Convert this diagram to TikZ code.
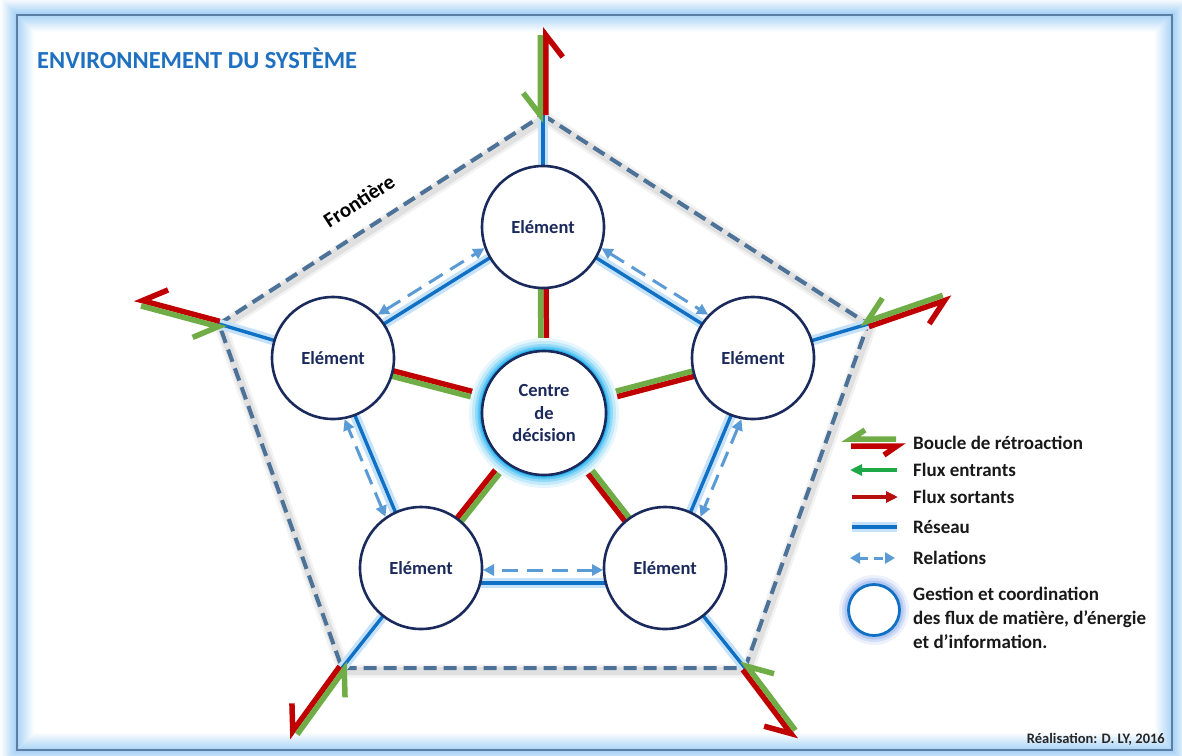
\documentclass[tikz,border=0pt]{standalone}
\usepackage{fontspec}
\setmainfont{Carlito}
\usetikzlibrary{calc,arrows.meta}
\pgfdeclarelayer{bg}
\pgfsetlayers{bg,main}
\definecolor{navy}{HTML}{1B2A5C}
\definecolor{fgreen}{HTML}{70AD47}
\definecolor{fred}{HTML}{C00000}
\definecolor{netblue}{HTML}{1070C4}
\definecolor{netglowc}{HTML}{C5E2FA}
\definecolor{relblue}{HTML}{5B9BD5}
\definecolor{bordc}{HTML}{4D7298}
\definecolor{titleblue}{HTML}{1F70C1}
\definecolor{glowc}{HTML}{9DCDF5}
\definecolor{centglow}{HTML}{2AB5F0}
\definecolor{legreen}{HTML}{1EA84A}
\definecolor{legred}{HTML}{B80F0F}
\definecolor{framec}{HTML}{5C7EA3}
\definecolor{legglow}{HTML}{7FA2E8}
\newcommand{\fbk}[2]{%
  \begin{scope}[shift={(#1)},rotate=#2]
    \draw[fr] (58,19.75) -- (80,2.75) -- (0,2.75);
    \draw[fg] (22,-19.75) -- (0,-2.75) -- (80,-2.75);
  \end{scope}}
\begin{document}
\begin{tikzpicture}[x=1pt,y=-1pt,
  elem/.style={circle,draw=navy,line width=2.6pt,fill=white,minimum size=122pt,inner sep=0pt,text=navy,font=\bfseries\fontsize{18.5}{22.5}\selectfont,align=center},
  netglow/.style={draw=netglowc,line width=10pt},
  netline/.style={draw=netblue,line width=3.4pt},
  rel/.style={draw=relblue,line width=3pt,dash pattern=on 16pt off 9pt,{Triangle[length=11pt,width=11pt]}-{Triangle[length=11pt,width=11pt]}},
  fr/.style={draw=fred,line width=5.5pt,line join=miter},
  fg/.style={draw=fgreen,line width=5.5pt,line join=miter},
  border/.style={draw=bordc,line width=4pt,dash pattern=on 13pt off 7pt},
  lab/.style={font=\bfseries\fontsize{19}{24}\selectfont,anchor=west,inner sep=0pt,align=left,text=black!90},
]
\useasboundingbox (0,0) rectangle (1182,755);

% vertices of the boundary
\coordinate (vT) at (543,115);
\coordinate (vR) at (868,324);
\coordinate (vBR) at (745,668);
\coordinate (vBL) at (342,668);
\coordinate (vL) at (219,324);

% nodes
\node[elem] (eT) at (543,227) {Elément};
\node[elem] (eL) at (333,358) {Elément};
\node[elem] (eR) at (753,358) {Elément};
\node[elem] (eBL) at (421,568) {Elément};
\node[elem] (eBR) at (665,568) {Elément};
\node[elem,minimum size=124pt] (C) at (544,413) {Centre\\de\\décision};

\begin{pgfonlayer}{bg}
  \fill[white] (0,0) rectangle (1182,755);
  \foreach \i in {0,...,16} {
    \pgfmathtruncatemacro\p{100-6*\i}
    \draw[glowc!\p!white, line width=1.2pt] (17-\i,15-\i) rectangle (1172+\i,750+\i);
  }
  \foreach \i in {1,...,18} {
    \pgfmathtruncatemacro\p{90-5*\i}
    \draw[glowc!\p!white, line width=1.2pt] (17+\i,15+\i) rectangle (1172-\i,750-\i);
  }
  \draw[framec, line width=1.3pt] (17,15) rectangle (1172,750);

  % boundary with soft shadow
  \draw[black, opacity=0.05, line width=13pt, line join=round, transform canvas={shift={(2pt,-3pt)}}] (vT) -- (vR) -- (vBR) -- (vBL) -- (vL) -- cycle;
  \draw[black, opacity=0.07, line width=8pt, line join=round, transform canvas={shift={(2pt,-3pt)}}] (vT) -- (vR) -- (vBR) -- (vBL) -- (vL) -- cycle;
  \draw[border] (vT) -- (vR) -- (vBR) -- (vBL) -- (vL) -- cycle;

  % network to boundary
  \foreach \e/\v in {eT/vT,eR/vR,eBR/vBR,eBL/vBL,eL/vL} {
    \draw[netglow] (\e.center) -- (\v);
  }
  \foreach \e/\v in {eT/vT,eR/vR,eBR/vBR,eBL/vBL,eL/vL} {
    \draw[netline] (\e.center) -- (\v);
  }
  % network between elements
  \foreach \a/\b/\d in {eT/eR/2pt, eR/eBR/2pt, eBR/eBL/15pt, eBL/eL/2pt, eL/eT/2pt} {
    \draw[netglow] ($(\a.center)!\d!90:(\b.center)$) -- ($(\b.center)!\d!-90:(\a.center)$);
  }
  \foreach \a/\b/\d in {eT/eR/2pt, eR/eBR/2pt, eBR/eBL/15pt, eBL/eL/2pt, eL/eT/2pt} {
    \draw[netline] ($(\a.center)!\d!90:(\b.center)$) -- ($(\b.center)!\d!-90:(\a.center)$);
  }
  % relations
  \foreach \a/\b/\d/\s in {eT/eR/13pt/61pt, eR/eBR/13pt/61pt, eBR/eBL/2pt/62pt, eBL/eL/13pt/61pt, eL/eT/13pt/61pt} {
    \draw[rel, shorten <=\s, shorten >=\s] ($(\a.center)!\d!90:(\b.center)$) -- ($(\b.center)!\d!-90:(\a.center)$);
  }
  % flows centre <-> elements
  \foreach \e in {eT,eR,eBR,eBL,eL} {
    \draw[fr] ($(C.center)!2.75pt!-90:(\e.center)$) -- ($(\e.center)!2.75pt!90:(C.center)$);
    \draw[fg] ($(C.center)!2.75pt!90:(\e.center)$) -- ($(\e.center)!2.75pt!-90:(C.center)$);
  }
  % centre glow
  \fill[centglow!12] (C.center) circle (75);
  \fill[centglow!28] (C.center) circle (72);
  \fill[centglow!50] (C.center) circle (69);
  \fill[centglow!75] (C.center) circle (66.5);
  \fill[centglow] (C.center) circle (64.5);
  % legend circle glow
  \fill[legglow!15] (874,610) circle (35);
  \fill[legglow!35] (874,610) circle (32);
  \fill[legglow!60] (874,610) circle (29.5);
\end{pgfonlayer}

% feedback loops at the boundary vertices
\fbk{vT}{90}
\fbk{vL}{165}
\fbk{vR}{19}
\fbk{vBL}{234}
\fbk{vBR}{307}

% texts
\node[anchor=west,inner sep=0pt,text=titleblue,font=\bfseries\fontsize{24.5}{28}\selectfont] (title) at (37,58) {ENVIRONNEMENT DU SYSTÈME};
\node[inner sep=0pt,rotate=32.8,font=\bfseries\fontsize{21}{24}\selectfont] (front) at (359,201) {Frontière};
\node[anchor=east,inner sep=0pt,font=\bfseries\fontsize{14.5}{17}\selectfont,text=black!85] (credit) at (1165,739) {Réalisation: D. LY, 2016};

% legend
\draw[fg] (865,430) -- (851,439) -- (896,439);
\draw[fr] (851,446) -- (897,446) -- (884,455);
\node[lab] (l1) at (913,443) {Boucle de rétroaction};
\coordinate (a2s) at (897,470);
\coordinate (a2e) at (850,470);
\draw[legreen, line width=3.5pt, -{Triangle[length=12pt,width=11pt]}] (a2s) -- (a2e);
\node[lab] (l2) at (913,470) {Flux entrants};
\coordinate (a3s) at (852,497);
\coordinate (a3e) at (898,497);
\draw[legred, line width=3.5pt, -{Triangle[length=12pt,width=11pt]}] (a3s) -- (a3e);
\node[lab] (l3) at (913,497) {Flux sortants};
\coordinate (a4s) at (852,527);
\coordinate (a4e) at (897,527);
\draw[netglow] (a4s) -- (a4e);
\draw[netline] (a4s) -- (a4e);
\node[lab] (l4) at (913,527) {Réseau};
\coordinate (a5s) at (850,558);
\coordinate (a5e) at (895,558);
\draw[draw=relblue, line width=3pt, dash pattern=on 9pt off 6pt, {Triangle[length=10pt,width=11pt]}-{Triangle[length=10pt,width=11pt]}] (a5s) -- (a5e);
\node[lab] (l5) at (913,558) {Relations};
\node[circle, draw=netblue, line width=2.8pt, minimum size=51pt, inner sep=0pt, fill=white] (lc) at (874,610) {};
\node[lab] (l6) at (913,618) {Gestion et coordination\\des flux de matière, d’énergie\\et d’information.};
\end{tikzpicture}
\end{document}
